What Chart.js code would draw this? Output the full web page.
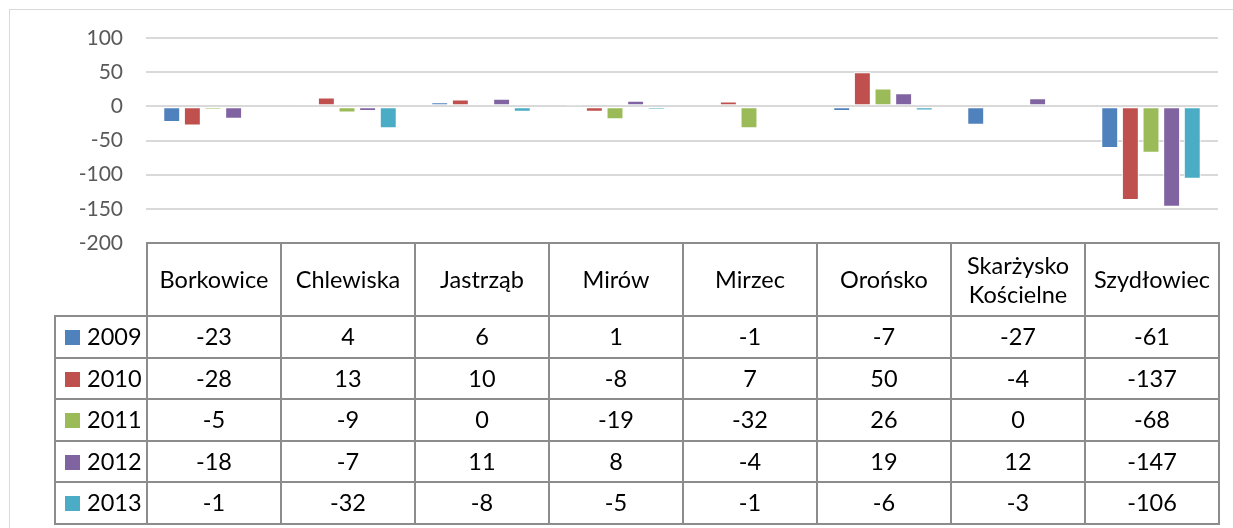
<!DOCTYPE html>
<html>
<head>
<meta charset="utf-8">
<script src="https://cdn.jsdelivr.net/npm/chart.js@4/dist/chart.umd.min.js"></script>
<style>
    html, body { margin: 0; padding: 0; background: #fff; }
    #wrap { position: relative; width: 1233px; height: 528px; overflow: hidden; }
    #frame { position: absolute; left: 9px; top: 9px; width: 1300px; height: 600px;
             border-left: 1px solid #d9d9d9; border-top: 1px solid #d9d9d9; }
    #chart { position: absolute; left: 0; top: 0; }
    #dataTable { position: absolute; border-collapse: collapse; table-layout: fixed;
                 font-family: Lato, "Open Sans", sans-serif; font-size: 23.5px; color: #000; }
    #dataTable td { border: 2px solid #8c8c8c; text-align: center; vertical-align: middle;
                    padding: 0; line-height: 29px; white-space: nowrap; }
    #dataTable td.blank { border: none; }
    #dataTable td.key { text-align: left; padding-left: 9px; }
    .swatch { display: inline-block; width: 15px; height: 15px; margin-right: 7px; vertical-align: 0px; }
</style>
</head>
<body>
<div id="wrap">
    <div id="frame"></div>
    <canvas id="chart" width="1233" height="528"></canvas>
    <table id="dataTable"></table>
</div>
<script>
const categories = ["Borkowice", "Chlewiska", "Jastrząb", "Mirów", "Mirzec", "Orońsko", "Skarżysko Kościelne", "Szydłowiec"];
const years = ["2009", "2010", "2011", "2012", "2013"];
const colors = ["#4F81BD", "#C0504D", "#9BBB59", "#8064A2", "#4BACC6"];

const v2009 = [-23, 4, 6, 1, -1, -7, -27, -61];
const v2010 = [-28, 13, 10, -8, 7, 50, -4, -137];
const v2011 = [-5, -9, 0, -19, -32, 26, 0, -68];
const v2012 = [-18, -7, 11, 8, -4, 19, 12, -147];
const v2013 = [-1, -32, -8, -5, -1, -6, -3, -106];
const series = [v2009, v2010, v2011, v2012, v2013];

const yTicks = [100, 50, 0, -50, -100, -150, -200];

let ctx = document.getElementById('chart').getContext('2d');

let chart = new Chart(ctx, {
    type: 'bar',
    data: {
        labels: categories,
        datasets: series.map((values, i) => ({
            label: years[i],
            data: values,
            backgroundColor: colors[i],
            borderColor: '#ffffff',
            borderWidth: 1,
            borderSkipped: false,
            categoryPercentage: 0.77,
            barPercentage: 0.82
        }))
    },
    options: {
        responsive: false,
        animation: false,
        layout: { padding: { left: 0, top: 38, right: 15, bottom: 285 } },
        plugins: { legend: { display: false }, tooltip: { enabled: false } },
        scales: {
            x: { display: false },
            y: {
                min: -200,
                max: 100,
                afterFit: (scale) => { scale.width = 146; },
                afterBuildTicks: (scale) => { scale.ticks = yTicks.map(v => ({ value: v })); },
                border: { display: false },
                grid: { color: '#d9d9d9', lineWidth: 2, drawTicks: false },
                ticks: {
                    padding: 23,
                    color: '#595959',
                    font: { family: 'Lato, "Open Sans", sans-serif', size: 21 }
                }
            }
        }
    }
});

// data table below the plot, aligned to the chart area
function buildTable() {
    let area = chart.chartArea;
    let colW = (area.right - area.left) / categories.length;
    let keyW = 92;
    let table = document.getElementById('dataTable');
    table.style.left = (area.left - keyW) + 'px';
    table.style.top = (area.bottom - 1) + 'px';
    table.style.width = (keyW + colW * categories.length) + 'px';

    let html = '<colgroup><col style="width:' + keyW + 'px">';
    categories.forEach(() => { html += '<col style="width:' + colW + 'px">'; });
    html += '</colgroup>';

    html += '<tr style="height:73px"><td class="blank"></td>';
    categories.forEach(c => {
        let label = c === 'Skarżysko Kościelne' ? 'Skarżysko<br>Kościelne' : c;
        html += '<td>' + label + '</td>';
    });
    html += '</tr>';

    series.forEach((values, i) => {
        html += '<tr style="height:41.5px"><td class="key"><span class="swatch" style="background:' + colors[i] + '"></span>' + years[i] + '</td>';
        values.forEach(v => { html += '<td>' + v + '</td>'; });
        html += '</tr>';
    });
    table.innerHTML = html;
}
buildTable();
</script>
</body>
</html>
